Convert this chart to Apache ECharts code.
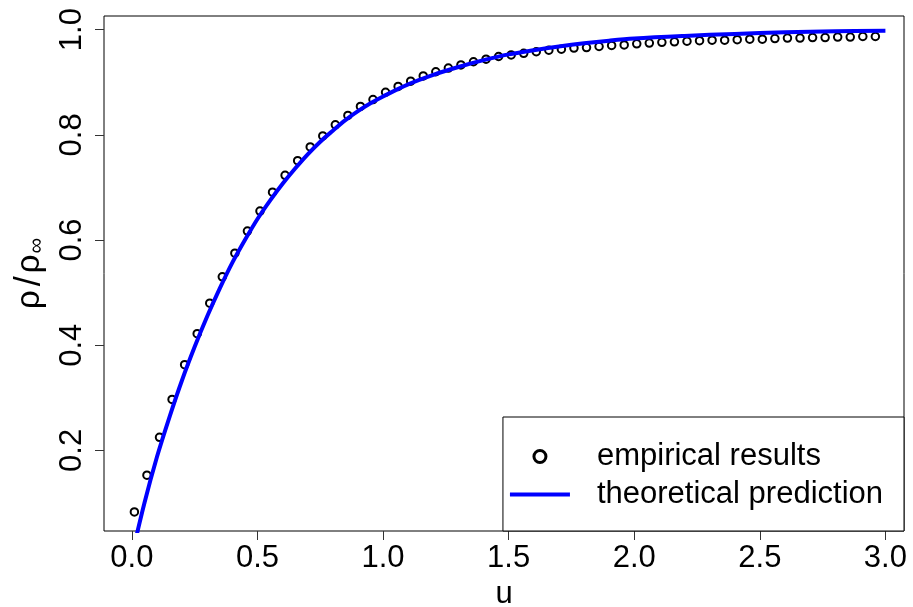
<!DOCTYPE html>
<html>
<head>
<meta charset="utf-8">
<script src="https://cdn.jsdelivr.net/npm/echarts@6/dist/echarts.min.js"></script>
<style>
html,body{margin:0;padding:0;background:#fff;}
#c{width:913px;height:607px;}
</style>
</head>
<body>
<div id="c"></div>
<script>
// ---- data ----
const empU = [0.01,0.06,0.11,0.16,0.21,0.26,0.31,0.36,0.41,0.46,0.51,0.56,0.61,0.66,0.71,0.76,0.81,0.86,0.91,0.96,
  1.01,1.06,1.11,1.16,1.21,1.26,1.31,1.36,1.41,1.46,1.51,1.56,1.61,1.66,1.71,1.76,1.81,1.86,1.91,1.96,
  2.01,2.06,2.11,2.16,2.21,2.26,2.31,2.36,2.41,2.46,2.51,2.56,2.61,2.66,2.71,2.76,2.81,2.86,2.91,2.96];
const empV = [0.083,0.153,0.225,0.297,0.363,0.422,0.480,0.530,0.575,0.617,0.655,0.691,0.723,0.751,0.777,0.798,0.819,0.837,0.854,0.867,
  0.881,0.892,0.902,0.912,0.920,0.927,0.933,0.939,0.944,0.949,0.952,0.955,0.958,0.961,0.963,0.965,0.966,0.968,0.970,0.971,
  0.973,0.9745,0.976,0.977,0.978,0.979,0.980,0.980,0.981,0.982,0.982,0.983,0.984,0.984,0.985,0.985,0.986,0.986,0.987,0.987];
const theoU = [0,0.05,0.1,0.15,0.2,0.25,0.3,0.35,0.4,0.45,0.5,0.55,0.6,0.65,0.7,0.75,0.8,0.85,0.9,0.95,1.0,
  1.1,1.2,1.3,1.4,1.5,1.6,1.7,1.8,1.9,2.0,2.2,2.4,2.6,2.8,3.0];
const theoV = [0.000,0.100,0.188,0.264,0.334,0.397,0.455,0.508,0.557,0.600,0.640,0.675,0.707,0.736,0.763,0.787,0.808,0.828,0.845,0.860,0.873,
  0.896,0.914,0.929,0.942,0.953,0.961,0.968,0.974,0.979,0.983,0.988,0.992,0.995,0.997,0.998];
const xTicks = [0,0.5,1.0,1.5,2.0,2.5,3.0];
const yTicks = [0.2,0.4,0.6,0.8,1.0];
const seriesNames = ['empirical results','theoretical prediction'];
const xName = 'u';

const FONT = '"Liberation Sans", Arial, Helvetica, sans-serif';
const FS = 31;

const chart = echarts.init(document.getElementById('c'), null, {renderer:'canvas'});
chart.setOption({
  animation:false,
  backgroundColor:'#fff',
  grid:{left:104, right:9, top:16, bottom:76, outerBoundsMode:'none', containLabel:false,
    show:true, borderColor:'#000', borderWidth:1, backgroundColor:'transparent'},
  xAxis:{
    type:'value', min:-0.111, max:3.074,
    name:xName, nameLocation:'middle', nameGap:34,
    nameTextStyle:{fontSize:FS, fontFamily:FONT, color:'#000'},
    axisLine:{show:false, onZero:false},
    axisTick:{show:true, length:9, lineStyle:{color:'#333', width:1}, customValues:xTicks},
    axisLabel:{show:true, margin:12, fontSize:FS, fontFamily:FONT, color:'#000', customValues:xTicks,
      formatter:v=>v.toFixed(1)},
    splitLine:{show:false}
  },
  yAxis:{
    type:'value', min:0.0468, max:1.026,
    name:'{r|ρ}{sl|/}{r|ρ}{s|∞}', nameLocation:'middle', nameGap:56, nameRotate:90,
    nameTextStyle:{fontFamily:FONT, color:'#000',
      rich:{r:{fontSize:33, fontFamily:FONT, color:'#000'},
            sl:{fontSize:36, fontFamily:FONT, color:'#000', padding:[0,3,0,4]},
            s:{fontSize:22, fontFamily:FONT, color:'#000', verticalAlign:'bottom', padding:[11,0,0,1]}}},
    axisLine:{show:false, onZero:false},
    axisTick:{show:true, length:9, lineStyle:{color:'#333', width:1}, customValues:yTicks},
    axisLabel:{show:true, rotate:90, margin:16, fontSize:FS, fontFamily:FONT, color:'#000', customValues:yTicks,
      formatter:v=>v.toFixed(1)},
    splitLine:{show:false}
  },
  legend:{
    orient:'vertical', right:9, bottom:76,
    itemWidth:60, itemHeight:12, itemGap:7,
    padding:[24,21,21,7],
    borderColor:'#000', borderWidth:1, backgroundColor:'#fff',
    textStyle:{fontSize:FS, fontFamily:FONT, color:'#000', lineHeight:31, padding:[0,0,0,22]},
    data:[
      {name:seriesNames[0], icon:'circle', itemStyle:{color:'#fff', borderColor:'#000', borderWidth:3}},
      {name:seriesNames[1], icon:'path://M0,0L60,0L60,4L0,4Z', itemStyle:{color:'#0000ff', borderWidth:0}}
    ]
  },
  series:[
    {
      name:seriesNames[0], type:'scatter',
      data:empU.map((u,i)=>[u, empV[i]]),
      symbol:'circle', symbolSize:7.5,
      itemStyle:{color:'rgba(255,255,255,0)', borderColor:'#000', borderWidth:2, opacity:1},
      emphasis:{disabled:true}
    },
    {
      name:seriesNames[1], type:'line',
      data:theoU.map((u,i)=>[u, theoV[i]]),
      symbol:'none', smooth:0.35, clip:true,
      lineStyle:{color:'#0000ff', width:4},
      itemStyle:{color:'#0000ff'},
      emphasis:{disabled:true}
    }
  ]
});
</script>
</body>
</html>
